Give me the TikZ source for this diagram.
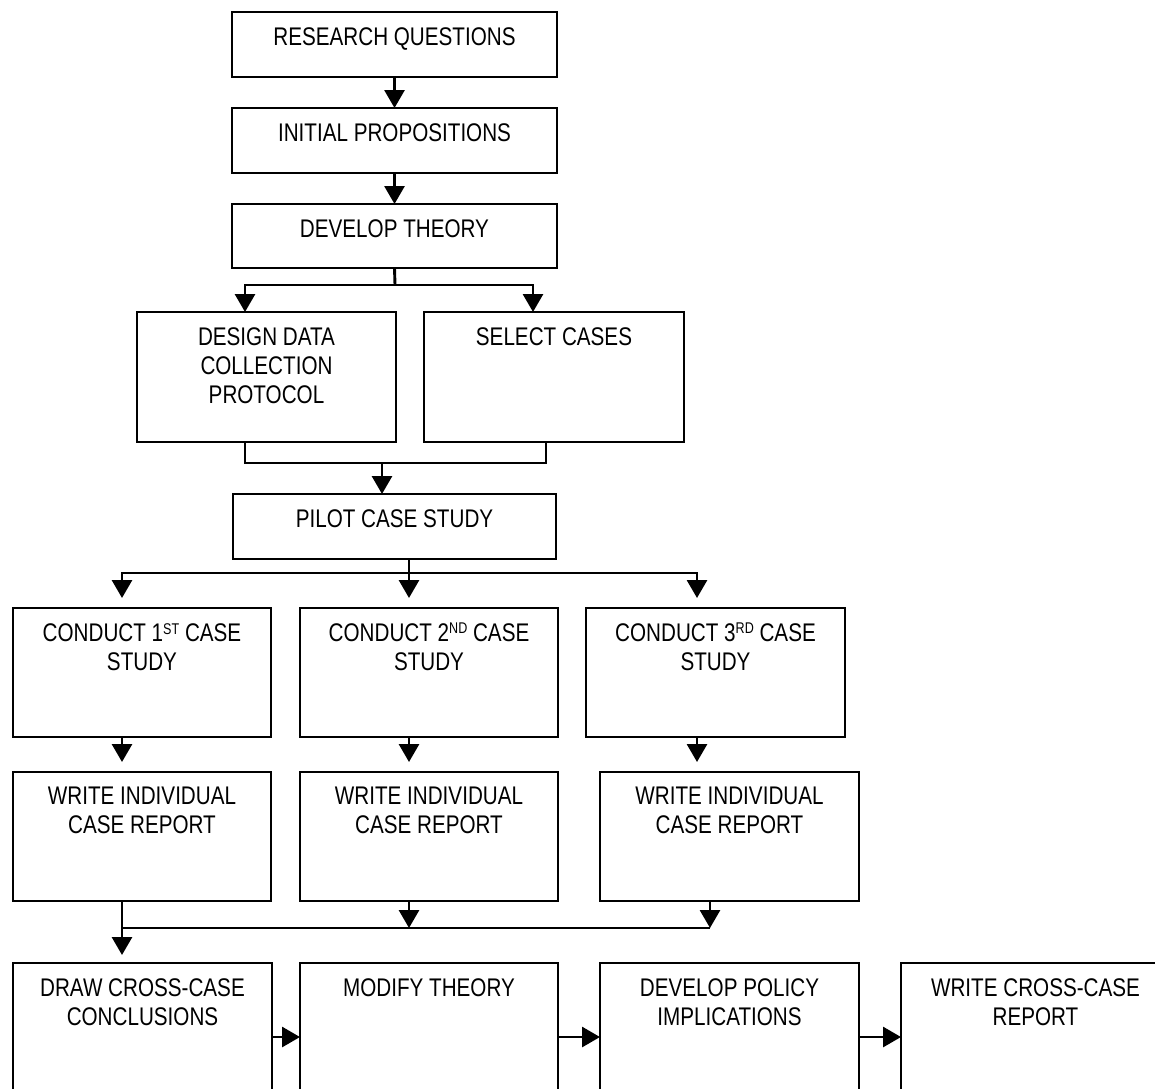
\documentclass[tikz,border=0pt]{standalone}
\usepackage{fontspec}
\setmainfont{Liberation Sans}[FakeStretch=0.81]
\usetikzlibrary{arrows.meta,fit}

% raised small capitals for ordinals (1st, 2nd, 3rd)
\newcommand\ordsup[1]{\raisebox{7.2pt}{\fontsize{15.5}{15.5}\selectfont #1}}

% a framed step: name, corners (x1,y1) (x2,y2), text set at the top
\newcommand\flowbox[6]{%
  \node[boxframe, fit={(#2,#3) (#4,#5)}] (#1) {};
  \node[boxtext, anchor=north] (#1-t) at ([yshift=-15pt]#1.north) {#6};}

\begin{document}
\begin{tikzpicture}[x=1pt, y=-1pt,
  boxframe/.style={draw, line width=2.9pt, inner sep=0pt, outer sep=0pt},
  boxtext/.style={inner sep=0pt, align=center, font=\fontsize{25.5}{29}\selectfont},
  link/.style={draw, line width=2.9pt},
  arr/.style={link, -{Triangle[length=18pt, width=20pt]}}]

\useasboundingbox (0,0) rectangle (1155,1088);
\fill[white] (0,0) rectangle (1155,1088);
\clip (0,0) rectangle (1155,1088);

% main column
\flowbox{rq}{232}{12}{557}{77}{RESEARCH QUESTIONS}
\flowbox{ip}{232}{108}{557}{173}{INITIAL PROPOSITIONS}
\flowbox{dt}{232}{204}{557}{268}{DEVELOP THEORY}
\flowbox{dd}{137}{312}{396}{442}{DESIGN DATA\\COLLECTION\\PROTOCOL}
\flowbox{sc}{424}{312}{684}{442}{SELECT CASES}
\flowbox{pc}{233}{494}{556}{559}{PILOT CASE STUDY}

% case studies
\flowbox{c1}{13}{608}{271}{737}{CONDUCT 1\ordsup{ST} CASE\\STUDY}
\flowbox{c2}{300}{608}{558}{737}{CONDUCT 2\ordsup{ND} CASE\\STUDY}
\flowbox{c3}{586}{608}{845}{737}{CONDUCT 3\ordsup{RD} CASE\\STUDY}
\flowbox{w1}{13}{772}{271}{901}{WRITE INDIVIDUAL\\CASE REPORT}
\flowbox{w2}{300}{772}{558}{901}{WRITE INDIVIDUAL\\CASE REPORT}
\flowbox{w3}{600}{772}{859}{901}{WRITE INDIVIDUAL\\CASE REPORT}

% cross-case analysis
\flowbox{d1}{13}{963}{272}{1110}{DRAW CROSS-CASE\\CONCLUSIONS}
\flowbox{mt}{300}{963}{558}{1110}{MODIFY THEORY}
\flowbox{dp}{600}{963}{859}{1110}{DEVELOP POLICY\\IMPLICATIONS}
\flowbox{wc}{901}{963}{1170}{1110}{WRITE CROSS-CASE\\REPORT}

% junction points
\coordinate (jT) at (395,285);
\coordinate (jM) at (382,463);
\coordinate (jP) at (409,573);
\coordinate (jW) at (409,928);

% top chain
\draw[arr] (rq.south) -- (ip.north);
\draw[arr] (ip.south) -- (dt.north);

% split into design and selection
\draw[link] (dt.south) -- (jT);
\draw[arr] (jT) -| ([xshift=108pt]dd.north west);
\draw[arr] (jT) -| ([xshift=109pt]sc.north west);

% merge into pilot
\draw[link] ([xshift=108pt]dd.south west) |- (jM);
\draw[link] ([xshift=122pt]sc.south west) |- (jM);
\draw[arr] (jM) -- (jM |- pc.north);

% pilot to the three cases
\draw[link] ([xshift=176pt]pc.south west) -- (jP);
\draw[arr, shorten >=10pt] (jP) -| ([xshift=109pt]c1.north west);
\draw[arr, shorten >=10pt] (jP) -- ([xshift=109pt]c2.north west);
\draw[arr, shorten >=10pt] (jP) -| ([xshift=111pt]c3.north west);

% each case to its report
\coordinate (c1o) at ([xshift=109pt]c1.south west);
\coordinate (c2o) at ([xshift=109pt]c2.south west);
\coordinate (c3o) at ([xshift=111pt]c3.south west);
\draw[arr, shorten >=10pt] (c1o) -- (c1o |- w1.north);
\draw[arr, shorten >=10pt] (c2o) -- (c2o |- w2.north);
\draw[arr, shorten >=10pt] (c3o) -- (c3o |- w3.north);

% reports gathered into conclusions
\coordinate (w1o) at ([xshift=109pt]w1.south west);
\coordinate (w2o) at ([xshift=109pt]w2.south west);
\coordinate (w3o) at ([xshift=110pt]w3.south west);
\draw[arr, shorten >=8pt] (w1o) -- (w1o |- d1.north);
\draw[arr] (w2o) -- (jW);
\draw[arr] (w3o) -- (w3o |- jW);
\draw[link] (w1o |- jW) -- (w3o |- jW);

% bottom row
\draw[arr] ([yshift=-74pt]d1.north east) -- ([yshift=-74pt]mt.north west);
\draw[arr] ([yshift=-74pt]mt.north east) -- ([yshift=-74pt]dp.north west);
\draw[arr] ([yshift=-74pt]dp.north east) -- ([yshift=-74pt]wc.north west);

\end{tikzpicture}
\end{document}
